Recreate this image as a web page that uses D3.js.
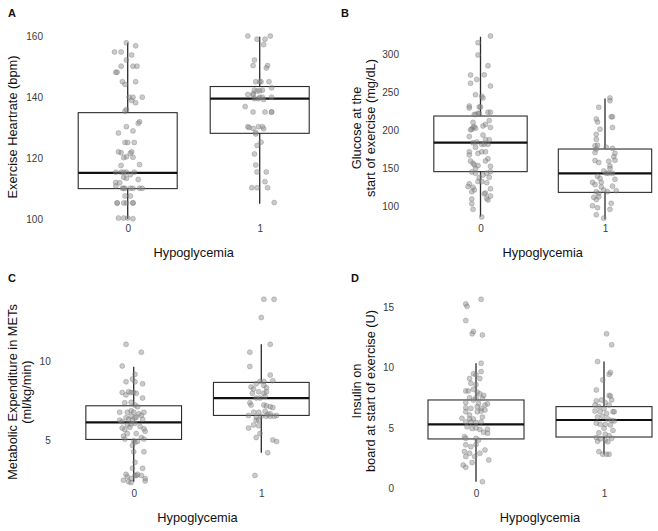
<!DOCTYPE html>
<html>
<head>
<meta charset="utf-8">
<script src="https://cdn.jsdelivr.net/npm/d3@7"></script>
<style>
  html, body { margin: 0; padding: 0; background: #fff; }
  svg { display: block; font-family: "Liberation Sans", Arial, Helvetica, sans-serif; }
</style>
</head>
<body>
<svg id="chart" width="658" height="531"></svg>
<script>
// ---------- DATA ----------
const categories = ["0", "1"];
const xTitle = "Hypoglycemia";

// Panel A: Exercise heart rate (bpm)
const hrTicks = [100, 120, 140, 160];
const hrValues0 = [158,155,155,157,154,152.3,150.3,150.3,150.3,148.3,148.3,145.2,144.3,145.2,140.1,140.1,140.1,139,138.3,135.5,136,132,131.5,130.4,129,128.3,125.2,125.2,125.2,122.1,121.8,122.1,121.6,120.5,120.3,120.2,117.9,117.6,115.4,115.4,115.4,115.4,115.4,114.6,113.7,113.4,112,111.9,113,110.9,110.1,110.1,110.1,110.1,110.1,110.1,110.1,107.6,107.6,105.3,105.3,105.3,105.3,105.3,105.3,100.3,100.3,100.3,100.1];
const hrJitter0 = [-1,-10,-5,6,3,-1,-5,4,7,-9,-8,-4,-2,6,1,4,11,3,6,-2,-1,9,8,-1,4,-7,-2,0,5,-7,-5,3,2,-1,4,-3,9,-5,-9,-5,-3,-1,5,2,-3,-1,-9,-6,8,-9,-4,-3,-2,2,4,9,11,-2,2,-8,-8,-3,-1,4,4,-7,-3,0,4];
const hrValues1 = [160.2,159.2,159.2,160.2,157.4,152.3,150.5,149.7,150.5,145.2,145.2,145.2,145.2,143.2,142.4,142.1,142.2,142.4,141.2,141,140.8,140.1,140.1,139.3,140.1,139.6,139.6,137,135.2,135.2,135.2,135.2,130.4,130.1,129.8,130.4,129.7,130.4,128.5,128,125.3,124.2,121.4,117.8,115.5,115.5,112.3,110.3,110.3,110.3,105.4];
const hrJitter1 = [-9,-2,4,8,3,-4,6,5,-5,-3,1,0,7,9,-4,-2,0,2,-5,-9,-5,0,2,3,9,-4,-1,-11,-5,4,9,9,-9,-8,-5,2,3,-1,-3,-3,1,-2,-4,-3,5,-2,4,-6,-2,6,11];
const hrLow = [100, 105], hrQ1 = [110, 128.2], hrMed = [115.2, 139.6], hrQ3 = [135, 143.6], hrHigh = [158, 160];

// Panel B: Glucose at start of exercise (mg/dL)
const gluTicks = [100, 150, 200, 250, 300];
const gluValues0 = [324,315.3,299,285,272.9,273,262,267,258.4,247,245,242.7,232,229.5,231,231,222.6,222,224,224,213,221,221,210.7,204,201.5,205,203,201,206,208,204,192,194,188,188,182,182,182,184,185,178,172,168,170,172,172,163,160,157,155,154,150,153,146,141.6,144,138.5,145.5,143.8,130,126.5,125.5,133,133,131.5,122,119.7,118,111,123.6,114,108.8,110,104,96.5,86.5,117,138,160];
const gluJitter0 = [8,-2,-2,6,-8,3,-8,-3,8,-4,1,2,-9,-9,-1,0,-2,-1,6,8,7,-5,-4,-6,-6,-7,-5,-4,-8,2,4,8,-9,2,4,7,6,3,1,-6,-3,-4,-9,-9,-2,1,4,6,4,-6,-5,-2,-4,8,8,2,5,7,-7,-4,-9,-10,-6,-2,1,5,-5,-7,4,5,8,8,6,-7,-7,-6,1,3,-1,-8];
const gluValues1 = [230.4,242.7,239,218,218,204,211,215,201.8,195,188.5,180,175.6,180.6,171,176.6,170,165.6,161,160.6,158,159.6,153.4,143.8,143.8,143.8,140,137.2,136,150,132,129,132,126,119.7,117.5,122,119.7,121,112.3,109.6,113,101.3,98.7,96.5,104.4,89.4,85,178,147,127];
const gluJitter1 = [-5,4,4,5,6,6,-6,-7,-4,-7,-7,-8,-7,-6,-8,6,8,7,8,-8,-5,3,4,1,3,6,-6,-4,8,4,-10,-8,-3,-3,-7,-5,-1,2,9,-9,-7,-5,-10,-6,4,5,-7,-1,1,-1,6];
const gluLow = [87, 83.5], gluQ1 = [146, 118.8], gluMed = [184, 143.8], gluQ3 = [219, 175.7], gluHigh = [323, 242];

// Panel C: Metabolic expenditure in METs (ml/kg/min)
const metTicks = [5, 10];
const metValues0 = [11.1,10.6,9.73,9.2,8.73,8.9,8.73,8.6,8.05,8.1,8.05,8.05,8.0,7.9,7.7,7.4,7.43,7.26,7.15,6.8,6.8,6.9,6.8,6.7,6.8,6.45,6.56,6.45,6.6,6.3,6.2,6.35,6.5,6.3,6.35,6.0,6.05,6.1,5.8,5.7,5.85,5.9,5.75,5.6,5.3,5.45,5.45,5.2,5.1,5.0,4.95,5.1,4.9,4.7,4.3,4.3,3.63,3.25,3.25,2.87,2.72,2.6,2.8,2.8,2.8,2.6,2.45,2.5,2.4,2.87,2.35];
const metJitter0 = [-6,6,-9,1,-6,-1,1,7,-9,-4,-2,0,2,-6,7,-7,-2,1,3,-11,-5,-2,0,4,8,-6,-2,1,6,-11,-9,-4,2,-1,7,-5,-2,1,-9,-7,-3,5,8,9,-8,-5,2,6,-7,0,3,8,1,-1,0,8,1,-1,7,-6,-5,-2,1,2,6,9,9,-8,-4,3,-2];
const metValues1 = [13.95,13.95,12.8,11.1,10.6,9.7,9.16,8.8,8.6,8.75,8.75,8.5,8.35,8.4,8.27,8.1,8.1,8.0,8.0,7.7,7.7,7.8,7.4,7.26,7.26,7.21,7.15,7.1,6.8,6.8,6.87,6.67,6.7,6.6,6.6,6.5,6.55,6.3,6.3,6.55,6.55,6.55,5.8,6.0,5.95,5.2,4.95,5.05,5.45,4.24,2.8];
const metJitter1 = [2,10,0,7,-9,-9,7,9,-4,-1,2,2,4,-8,-6,-2,4,-7,2,-4,-1,3,-9,-8,2,4,7,9,-6,-2,3,5,7,12,-10,-4,0,-4,-2,4,7,10,-10,-6,-2,-4,12,9,-1,5,-5];
const metLow = [2.4, 4.24], metQ1 = [5.08, 6.6], metMed = [6.16, 7.7], metQ3 = [7.21, 8.69], metHigh = [9.68, 11.1];

// Panel D: Insulin on board at start of exercise (U)
const iobTicks = [0, 5, 10, 15];
const iobValues0 = [15.66,15.28,15.08,13.9,12.8,13.0,12.7,10.36,9.5,9.4,9.67,9.1,8.7,8.6,9.1,8.07,8.07,8.2,7.97,7.83,7.5,7.5,7.7,7.45,7.12,7.32,7.04,6.9,7.0,6.68,6.62,6.75,6.62,6.48,6.35,6.35,6.4,6.07,5.8,5.75,5.75,5.9,5.5,5.5,5.45,5.5,5.1,4.95,5.0,4.88,4.9,4.64,4.56,4.28,4.14,4.14,4.0,3.6,3.45,3.64,3.04,2.9,2.9,3.18,2.63,2.63,2.35,1.93,1.74,2.13,0.55];
const iobJitter0 = [4,-8,-7,-8,-3,-2,5,4,-2,0,4,3,-4,0,-5,-8,-6,-2,1,3,-5,0,6,5,-8,-2,2,7,9,-8,-4,1,4,7,-8,1,4,-5,-11,-5,-2,5,-8,-4,0,4,-7,-3,0,3,9,6,9,-9,-8,0,2,-8,-4,0,-9,-5,3,7,-8,-1,10,-10,-8,-3,5];
const iobValues1 = [12.8,11.9,10.5,9.6,9.45,8.98,8.15,7.7,7.65,7.24,7.32,7.1,7.32,6.9,6.77,6.6,6.9,6.4,6.35,6.2,6.35,6.35,5.9,5.95,5.75,5.62,5.58,5.4,5.3,5.3,5.25,4.97,4.8,4.6,4.48,4.36,4.14,4.2,3.9,4.1,3.97,3.85,3.04,2.82,2.82,2.82];
const iobJitter1 = [2,6,-5,5,4,-1,-6,4,5,-6,-2,1,6,-7,-4,0,4,-7,-3,2,7,8,-5,-1,3,6,8,-6,-3,1,5,0,7,-4,1,4,6,-6,-5,-3,1,3,-4,-1,2,4];
const iobLow = [0.55, 2.82], iobQ1 = [4.09, 4.25], iobMed = [5.3, 5.66], iobQ3 = [7.32, 6.77], iobHigh = [10.36, 10.5];

// ---------- LAYOUT ----------
const panels = [
  { letter: "A", lx: 8, ly: 17,
    yTitle: ["Exercise Heartrate (bpm)"], yTitleX: 17, yTitleY: 127,
    domain: [100, 160], range: [219, 36.7], ticks: hrTicks, tickX: 43,
    cx: [127.7, 259.7], xAxisY: 220.6, xTitleX: 193.7, xTitleY: 256.7,
    values: [hrValues0, hrValues1], jitter: [hrJitter0, hrJitter1],
    low: hrLow, q1: hrQ1, med: hrMed, q3: hrQ3, high: hrHigh },
  { letter: "B", lx: 341, ly: 17,
    yTitle: ["Glucose at the", "start of exercise (mg/dL)"], yTitleX: 361, yTitleY: 128,
    domain: [100, 300], range: [206.7, 54.3], ticks: gluTicks, tickX: 399,
    cx: [480.5, 605], xAxisY: 220.6, xTitleX: 542.8, xTitleY: 256.7,
    values: [gluValues0, gluValues1], jitter: [gluJitter0, gluJitter1],
    low: gluLow, q1: gluQ1, med: gluMed, q3: gluQ3, high: gluHigh },
  { letter: "C", lx: 8, ly: 282,
    yTitle: ["Metabolic Expenditure in METs", "(ml/kg/min)"], yTitleX: 17, yTitleY: 392,
    domain: [5, 10], range: [440.7, 361.7], ticks: metTicks, tickX: 50.7,
    cx: [133.7, 261.3], xAxisY: 485.9, xTitleX: 197.5, xTitleY: 521.7,
    values: [metValues0, metValues1], jitter: [metJitter0, metJitter1],
    low: metLow, q1: metQ1, med: metMed, q3: metQ3, high: metHigh },
  { letter: "D", lx: 351, ly: 282,
    yTitle: ["Insulin on", "board at start of exercise (U)"], yTitleX: 361, yTitleY: 391,
    domain: [0, 15], range: [488.3, 307.3], ticks: iobTicks, tickX: 394,
    cx: [476, 604], xAxisY: 485.9, xTitleX: 540, xTitleY: 521.7,
    values: [iobValues0, iobValues1], jitter: [iobJitter0, iobJitter1],
    low: iobLow, q1: iobQ1, med: iobMed, q3: iobQ3, high: iobHigh }
];

const svg = d3.select("#chart");

panels.forEach(p => {
  const g = svg.append("g");
  const y = d3.scaleLinear().domain(p.domain).range(p.range);
  const x = d3.scalePoint().domain(categories).range(p.cx);
  const step = p.cx[1] - p.cx[0];
  const halfW = step * 0.375;

  // panel letter
  g.append("text").attr("x", p.lx).attr("y", p.ly)
    .attr("font-size", 11).attr("font-weight", "bold").attr("fill", "#111")
    .text(p.letter);

  // y axis (labels only)
  const ya = g.append("g").attr("transform", `translate(${p.tickX + 4},0)`)
    .call(d3.axisLeft(y).tickValues(p.ticks).tickSize(0).tickPadding(4).tickFormat(d3.format("d")));
  ya.select(".domain").remove();
  ya.selectAll("text").attr("font-size", 10).attr("fill", "#3a3a3a")
    .attr("font-family", "'Liberation Sans', Arial, sans-serif");

  // x axis (labels only)
  const xa = g.append("g").attr("transform", `translate(0,${p.xAxisY})`)
    .call(d3.axisBottom(x).tickSize(0).tickPadding(4));
  xa.select(".domain").remove();
  xa.selectAll("text").attr("font-size", 10).attr("fill", "#3a3a3a")
    .attr("font-family", "'Liberation Sans', Arial, sans-serif");

  // titles
  g.append("text").attr("x", p.xTitleX).attr("y", p.xTitleY)
    .attr("text-anchor", "middle").attr("font-size", 12.8).attr("fill", "#111")
    .text(xTitle);

  const n = p.yTitle.length;
  p.yTitle.forEach((line, i) => {
    const bx = p.yTitleX + (i - (n - 1)) * 0 + i * 14;
    g.append("text")
      .attr("transform", `translate(${bx},${p.yTitleY}) rotate(-90)`)
      .attr("text-anchor", "middle").attr("font-size", 12.8).attr("fill", "#111")
      .text(line);
  });

  // boxes
  categories.forEach((c, i) => {
    const cx = x(c);
    const bg = g.append("g");
    bg.append("line").attr("x1", cx).attr("x2", cx)
      .attr("y1", y(p.high[i])).attr("y2", y(p.q3[i]))
      .attr("stroke", "#2b2b2b").attr("stroke-width", 1.3);
    bg.append("line").attr("x1", cx).attr("x2", cx)
      .attr("y1", y(p.q1[i])).attr("y2", y(p.low[i]))
      .attr("stroke", "#2b2b2b").attr("stroke-width", 1.3);
    bg.append("rect").attr("x", cx - halfW).attr("width", halfW * 2)
      .attr("y", y(p.q3[i])).attr("height", y(p.q1[i]) - y(p.q3[i]))
      .attr("fill", "none").attr("stroke", "#2b2b2b").attr("stroke-width", 1.1);
    bg.append("line").attr("x1", cx - halfW).attr("x2", cx + halfW)
      .attr("y1", y(p.med[i])).attr("y2", y(p.med[i]))
      .attr("stroke", "#111").attr("stroke-width", 2.2);
  });

  // jittered points
  categories.forEach((c, i) => {
    const vals = p.values[i], jit = p.jitter[i];
    const pts = vals.map((v, k) => ({ v, j: (jit[k] || 0) / 100 }));
    g.append("g").selectAll("circle").data(pts).join("circle")
      .attr("cx", d => x(c) + d.j * step)
      .attr("cy", d => y(d.v))
      .attr("r", 2.5)
      .attr("fill", "#8a8a8a").attr("fill-opacity", 0.45)
      .attr("stroke", "#6a6a6a").attr("stroke-opacity", 0.5).attr("stroke-width", 0.6);
  });
});
</script>
</body>
</html>
